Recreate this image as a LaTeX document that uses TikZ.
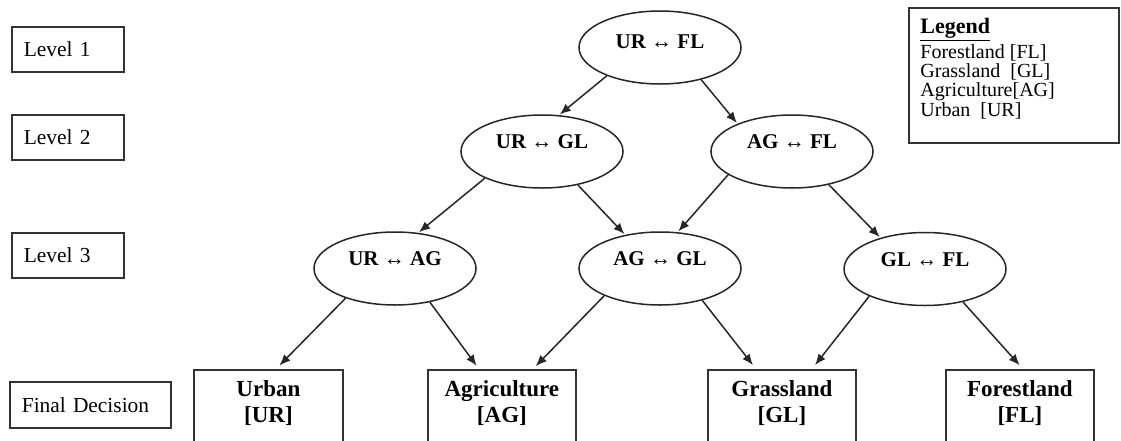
\documentclass[tikz,border=0pt]{standalone}
\usepackage{fontspec}
\setmainfont{Liberation Serif}
\usetikzlibrary{shapes.geometric,arrows.meta,calc}
\begin{document}
\begin{tikzpicture}[x=0.5pt,y=-0.5pt,
  ell/.style={draw=black!85, line width=0.75pt, ellipse, minimum width=81pt, minimum height=36.5pt, inner sep=0pt},
  etxt/.style={inner sep=0pt, font=\fontsize{10.5}{12}\selectfont\bfseries},
  lvl/.style={draw=black!80, line width=0.9pt, rectangle, anchor=north west, minimum width=56pt, minimum height=22.5pt, text width=44pt, inner xsep=6pt, inner ysep=0pt, font=\fontsize{10.7}{12}\selectfont},
  decbox/.style={draw=black!80, line width=0.9pt, rectangle, anchor=north west, minimum width=74pt, minimum height=40.5pt, inner sep=0pt},
  dectxt/.style={inner sep=0pt, align=center, font=\fontsize{11.5}{13}\selectfont\bfseries},
  legtxt/.style={inner sep=0pt, anchor=base west, font=\fontsize{10}{12}\selectfont},
  arr/.style={-{Latex[length=5.5pt,width=4.5pt]}, line width=0.75pt, draw=black!85},
]
\fill[white] (0,0) rectangle (1121,440);
\useasboundingbox (0,0) rectangle (1121,440);

% level boxes
\node[lvl] (lv1) at (11,26) {Level 1};
\node[lvl] (lv2) at (11,114) {Level 2};
\node[lvl] (lv3) at (11,232) {Level 3};
\node[lvl, minimum width=80.5pt, minimum height=23pt, text width=68.5pt] (lvf) at (9,381) {Final Decision};

% legend
\node[draw=black!80, line width=0.9pt, rectangle, anchor=north west, minimum width=105pt, minimum height=67.5pt, inner sep=0pt] (leg) at (908,7) {};
\node[legtxt, font=\fontsize{11}{12}\selectfont\bfseries] (legh) at (920,33) {\underline{Legend}};
\node[legtxt] (leg1) at (920,58) {Forestland [FL]};
\node[legtxt] (leg2) at (920,77) {Grassland\ \ [GL]};
\node[legtxt] (leg3) at (920,96) {Agriculture[AG]};
\node[legtxt] (leg4) at (920,116) {Urban\ \ [UR]};

% ellipses
\node[ell] (e1) at (660,47.5) {};
\node[ell] (e2a) at (542,151.5) {};
\node[ell] (e2b) at (792,151.5) {};
\node[ell] (e3a) at (395,268.5) {};
\node[ell] (e3b) at (660,268.5) {};
\node[ell] (e3c) at (925,269) {};
\node[etxt] (t1) at ($(e1)+(0,-6)$) {UR ↔ FL};
\node[etxt] (t2a) at ($(e2a)+(0,-9.5)$) {UR ↔ GL};
\node[etxt] (t2b) at ($(e2b)+(0,-9.5)$) {AG ↔ FL};
\node[etxt] (t3a) at ($(e3a)+(0,-9.5)$) {UR ↔ AG};
\node[etxt] (t3b) at ($(e3b)+(0,-9.5)$) {AG ↔ GL};
\node[etxt] (t3c) at ($(e3c)+(0,-9.5)$) {GL ↔ FL};

% decision boxes
\node[decbox, minimum width=74.5pt] (urban) at (193,369) {};
\node[decbox] (agri) at (427,369) {};
\node[decbox] (grass) at (707,369) {};
\node[decbox] (forest) at (945,369) {};
\node[dectxt] (urbant) at ($(urban.north)+(0,34)$) {Urban\\{}[UR]};
\node[dectxt] (agrit) at ($(agri.north)+(0,34)$) {Agriculture\\{}[AG]};
\node[dectxt] (grasst) at ($(grass.north)+(0,34)$) {Grassland\\{}[GL]};
\node[dectxt] (forestt) at ($(forest.north)+(0,34)$) {Forestland\\{}[FL]};

% connectors
\draw[arr, shorten >=0.5pt] (e1.208) -- (e2a.65);
\draw[arr, shorten >=0.5pt] (e1.-38) -- (e2b.153);
\draw[arr, shorten >=0.5pt] (e2a.205) -- (e3a.57);
\draw[arr, shorten >=0.5pt] (e2a.-43) -- (e3b.136);
\draw[arr, shorten >=0.5pt] (e2b.200) -- (e3b.64);
\draw[arr, shorten >=0.5pt] (e2b.-42) -- (e3c.145);
\draw[arr, shorten >=2.5pt] (e3a.211) -- ($(urban.north west)+(83,0)$);
\draw[arr, shorten >=2pt] (e3a.-44) -- ($(agri.north west)+(52,0)$);
\draw[arr, shorten >=2pt] (e3b.206) -- ($(agri.north west)+(106,0)$);
\draw[arr, shorten >=2.5pt] (e3b.-37) -- ($(grass.north west)+(49,0)$);
\draw[arr, shorten >=2.5pt] (e3c.206) -- ($(grass.north west)+(105,0)$);
\draw[arr, shorten >=2.5pt] (e3c.-41) -- ($(forest.north west)+(78,0)$);
\end{tikzpicture}
\end{document}
